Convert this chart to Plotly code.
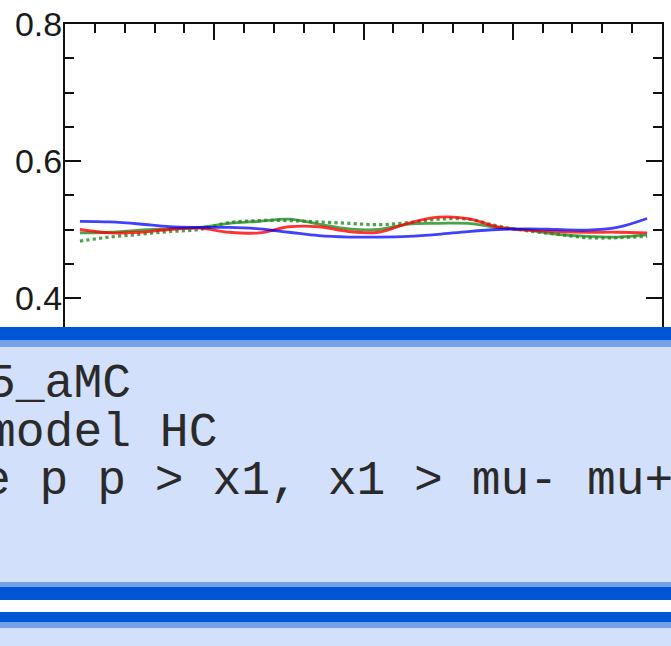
import plotly.graph_objects as go

# Bin centres in cos(theta) and the fraction per bin for each sample
cos_theta = [-0.95, -0.85, -0.75, -0.65, -0.55, -0.45, -0.35, -0.25, -0.15, -0.05,
             0.05, 0.15, 0.25, 0.35, 0.45, 0.55, 0.65, 0.75, 0.85, 0.95]
blue_vals = [0.512, 0.511, 0.508, 0.504, 0.503, 0.503, 0.501, 0.496, 0.491, 0.489,
             0.489, 0.490, 0.493, 0.497, 0.500, 0.501, 0.500, 0.499, 0.503, 0.516]
red_vals = [0.500, 0.495, 0.496, 0.500, 0.502, 0.496, 0.495, 0.504, 0.504, 0.497,
            0.496, 0.509, 0.518, 0.516, 0.504, 0.499, 0.497, 0.496, 0.496, 0.495]
green_vals = [0.495, 0.496, 0.499, 0.501, 0.503, 0.509, 0.512, 0.515, 0.508, 0.501,
              0.500, 0.508, 0.509, 0.509, 0.503, 0.499, 0.493, 0.490, 0.489, 0.492]
green_dot_vals = [0.483, 0.489, 0.493, 0.497, 0.500, 0.510, 0.513, 0.513, 0.511, 0.509,
                  0.507, 0.510, 0.515, 0.515, 0.505, 0.498, 0.493, 0.488, 0.488, 0.490]
y_ticks = [0.0, 0.2, 0.4, 0.6, 0.8]
y_tick_text = ["0.0", "0.2", "0.4", "0.6", "0.8"]
console_lines = ["5_aMC", "model HC", "e p p > x1, x1 > mu- mu+"]

W, H = 671, 646
L, R, T, B = 65, 9, 24, 74
PW, PH = W - L - R, H - T - B


def px(x):
    return (x - L) / PW


def py(y):
    return (H - B - y) / PH


fig = go.Figure()
fig.add_trace(go.Scatter(x=cos_theta, y=green_dot_vals, mode="lines",
                         line=dict(color="rgba(34,139,34,0.8)", width=3.2, dash="dot", shape="spline")))
fig.add_trace(go.Scatter(x=cos_theta, y=green_vals, mode="lines",
                         line=dict(color="rgba(34,139,34,0.8)", width=2.8, shape="spline")))
fig.add_trace(go.Scatter(x=cos_theta, y=red_vals, mode="lines",
                         line=dict(color="rgba(255,0,0,0.8)", width=2.8, shape="spline")))
fig.add_trace(go.Scatter(x=cos_theta, y=blue_vals, mode="lines",
                         line=dict(color="rgba(0,0,255,0.75)", width=2.8, shape="spline")))

axis_common = dict(showline=True, linecolor="#111", linewidth=2, mirror="ticks",
                   ticks="inside", tickcolor="#111", tickwidth=2, ticklen=16,
                   showgrid=False, zeroline=False, automargin=False)
fig.update_xaxes(range=[-1, 1], tick0=-1, dtick=0.5,
                 minor=dict(dtick=0.1, ticks="inside", ticklen=9, tickcolor="#111", tickwidth=2),
                 showticklabels=False, **axis_common)
fig.update_yaxes(range=[0, 0.8], tickvals=y_ticks, ticktext=y_tick_text,
                 minor=dict(dtick=0.05, ticks="inside", ticklen=9, tickcolor="#111", tickwidth=2),
                 tickfont=dict(family="Liberation Sans, Arial", size=34, color="#1a1a1a"),
                 ticklabelstandoff=-6,
                 **axis_common)

LIGHT = "#d3e0fb"
DARK = "#0055d4"
MID = "rgba(0,85,212,0.45)"
shapes = []


def rect(x0, y0, x1, y1, color):
    shapes.append(dict(type="rect", xref="paper", yref="paper", layer="above",
                       x0=px(x0), x1=px(x1), y0=py(y1), y1=py(y0),
                       fillcolor=color, line=dict(width=0)))


# console panel with ragged borders
rect(-5, 327, W + 5, H + 5, LIGHT)
rect(-5, 327, W + 5, 340, DARK)
rect(-5, 340, W + 5, 347, MID)
rect(-5, 582, W + 5, 587, MID)
rect(-5, 587, W + 5, 600, DARK)
rect(-5, 600, W + 5, 612, "white")
rect(-5, 612, W + 5, 622, DARK)
rect(-5, 622, W + 5, 628, MID)

annotations = []
line_y = [384, 433, 481]
line_x = [-15, -15, -20]
for text, yy, xx in zip(console_lines, line_y, line_x):
    annotations.append(dict(text=text, xref="paper", yref="paper", x=px(xx), y=py(yy),
                            xanchor="left", yanchor="middle", showarrow=False,
                            font=dict(family="Courier New, Liberation Mono, monospace",
                                      size=48, color="#2a2a2a")))

fig.update_layout(width=W, height=H, margin=dict(l=L, r=R, t=T, b=B, autoexpand=False),
                  paper_bgcolor="white", plot_bgcolor="white", showlegend=False,
                  shapes=shapes, annotations=annotations)
fig.write_html("out.html")
